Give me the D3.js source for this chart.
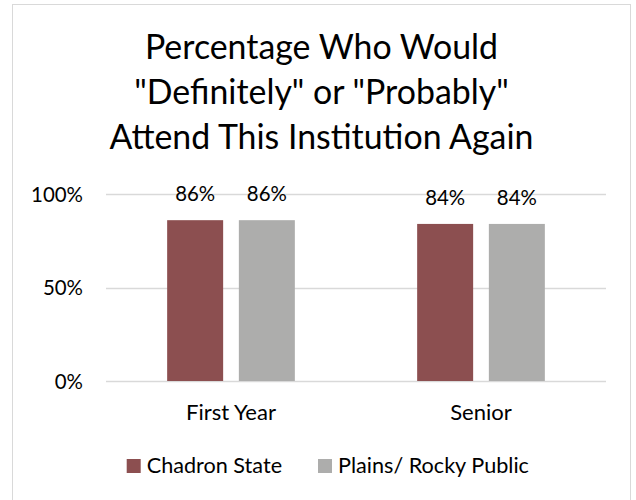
<!DOCTYPE html>
<html>
<head>
<meta charset="utf-8">
<script src="https://cdn.jsdelivr.net/npm/d3@7"></script>
<style>
  html, body { margin: 0; padding: 0; background: #fff; }
  svg { display: block; }
  text { font-family: Lato, "Open Sans", sans-serif; fill: #000; }
</style>
</head>
<body>
<svg id="chart" width="636" height="500"></svg>
<script>
const categories = ["First Year", "Senior"];
const seriesNames = ["Chadron State", "Plains/ Rocky Public"];
const chadronValues = [0.86, 0.84];
const plainsValues = [0.86, 0.84];
const tickValues = [0, 0.5, 1];
const tickLabels = ["0%", "50%", "100%"];
const titleLines = ["Percentage Who Would", "\"Definitely\" or \"Probably\"", "Attend This Institution Again"];

const colors = ["#8C4F50", "#ADADAC"];
const svg = d3.select("#chart");

// outer frame
svg.append("rect").attr("x", 12.5).attr("y", 4.5).attr("width", 618).attr("height", 520)
  .attr("fill", "#fff").attr("stroke", "#D9D9D9").attr("stroke-width", 1);

// fit helper: set font size so text width matches target
function fitSize(sel, target) {
  sel.style("font-size", "100px");
  const w = sel.node().getComputedTextLength();
  const fs = 100 * target / w;
  sel.style("font-size", fs + "px");
  return fs;
}

// title
const titleBaselines = [59, 104, 149];
const titleG = svg.append("g");
const tl = titleG.selectAll("text").data(titleLines).join("text")
  .attr("x", 321.5).attr("y", (d, i) => titleBaselines[i])
  .attr("text-anchor", "middle").text(d => d);
const tfs = fitSize(d3.select(tl.nodes()[2]), 424);
tl.style("font-size", tfs + "px");

const x = d3.scaleBand().domain(categories).range([106, 606]).paddingInner(0).paddingOuter(0);
const xs = d3.scaleBand().domain(seriesNames).range([0, x.bandwidth()]).paddingInner(0.219).paddingOuter(0.853);
const y = d3.scaleLinear().domain([0, 1]).range([381, 194]);

// gridlines
svg.append("g").selectAll("line").data(tickValues).join("line")
  .attr("x1", 106).attr("x2", 606)
  .attr("y1", d => Math.round(y(d)) + 0.5).attr("y2", d => Math.round(y(d)) + 0.5)
  .attr("stroke", "#D9D9D9").attr("stroke-width", 1.3);

// y axis labels
const yAxis = svg.append("g").attr("transform", "translate(83,0)")
  .call(d3.axisLeft(y).tickValues(tickValues).tickFormat((d, i) => tickLabels[i]).tickSize(0).tickPadding(0));
yAxis.select(".domain").remove();
const yt = yAxis.selectAll("text").attr("fill", "#000").style("font-family", "Lato, sans-serif");
const tickNode = yt.filter(d => d === 1);
const yfs = fitSize(tickNode, 52);
yt.style("font-size", yfs + "px").attr("dy", "0.35em");

const series = [chadronValues, plainsValues];
const data = [];
categories.forEach((c, ci) => seriesNames.forEach((s, si) => data.push({ c, s, si, v: series[si][ci] })));

// bars
svg.append("g").selectAll("rect").data(data).join("rect")
  .attr("x", d => x(d.c) + xs(d.s))
  .attr("width", xs.bandwidth())
  .attr("y", d => y(d.v))
  .attr("height", d => y(0) - y(d.v))
  .attr("fill", d => colors[d.si]);

// data labels
const dl = svg.append("g").selectAll("text").data(data).join("text")
  .attr("x", d => x(d.c) + xs(d.s) + xs.bandwidth() / 2)
  .attr("y", d => y(d.v) - 19)
  .attr("text-anchor", "middle")
  .text(d => Math.round(d.v * 100) + "%");
const dfs = fitSize(d3.select(dl.nodes()[0]), 40);
dl.style("font-size", dfs + "px");

// category labels
const xAxis = svg.append("g").attr("transform", "translate(0,381)")
  .call(d3.axisBottom(x).tickSize(0).tickPadding(0));
xAxis.select(".domain").remove();
const xt = xAxis.selectAll("text").attr("fill", "#000").attr("dy", null).attr("y", 39).style("font-family", "Lato, sans-serif");
const xfs = fitSize(xt.filter(d => d === "First Year"), 90);
xt.style("font-size", xfs + "px");

// legend
const legendX = [126.7, 318];
const lg = svg.append("g").selectAll("g").data(seriesNames).join("g")
  .attr("transform", (d, i) => `translate(${legendX[i]},459)`);
lg.append("rect").attr("width", 14).attr("height", 14).attr("fill", (d, i) => colors[i]);
const lt = lg.append("text").attr("x", 20).attr("y", 14.3).text(d => d);
const lfs = fitSize(d3.select(lt.nodes()[1]), 191);
lt.style("font-size", lfs + "px");
</script>
</body>
</html>
